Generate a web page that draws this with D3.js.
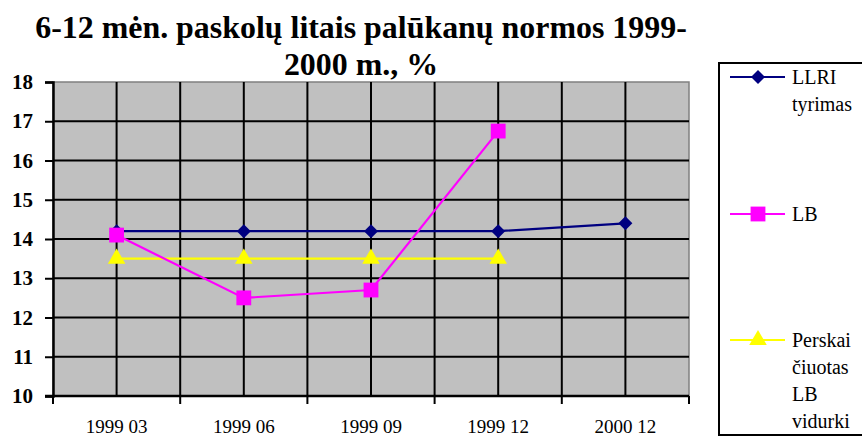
<!DOCTYPE html>
<html><head><meta charset="utf-8">
<script src="https://cdn.jsdelivr.net/npm/d3@7"></script>
<style>body{margin:0;background:#fff}svg{display:block}</style>
</head><body>
<script>
const categories = ["1999 03","1999 06","1999 09","1999 12","2000 12"];
const llri = [14.2,14.2,14.2,14.2,14.4];
const lb = [14.1,12.5,12.7,16.75,null];
const persk = [13.5,13.5,13.5,13.5,null];
const yTicks = [10,11,12,13,14,15,16,17,18];
const titleLines = ["6-12 mėn. paskolų litais palūkanų normos 1999-","2000 m., %"];
const legendNames = [["LLRI","tyrimas"],["LB"],["Perskai","čiuotas","LB","vidurki"]];

const W=862,H=437;
const svg=d3.select("body").append("svg").attr("width",W).attr("height",H);
const L=53,R=689,T=82,B=396;
const x=d3.scaleBand().domain(categories).range([L,R]);
const y=d3.scaleLinear().domain([10,18]).range([B,T]);
const font="Liberation Serif, Tinos, Times New Roman, Times, serif";

// title (fit line 1 to reference width)
const tt=svg.append("g").selectAll("text").data(titleLines).join("text")
 .attr("x",361).attr("y",(d,i)=>38+i*37).attr("text-anchor","middle")
 .style("font-family",font).attr("font-weight","bold").attr("font-size",30).text(d=>d);
const len=tt.nodes()[0].getComputedTextLength();
tt.attr("font-size",Math.min(32,30*652/len));

// plot bg
svg.append("rect").attr("x",L).attr("y",T).attr("width",R-L).attr("height",B-T)
 .attr("fill","#c0c0c0").attr("stroke","#808080").attr("stroke-width",1.5);

const vx=[];
categories.forEach(c=>{vx.push(x(c));vx.push(x(c)+x.bandwidth()/2);});
svg.append("g").selectAll("line").data(vx.filter(v=>v>L+1)).join("line")
 .attr("x1",d=>d).attr("x2",d=>d).attr("y1",T).attr("y2",B)
 .attr("stroke","#000").attr("stroke-width",2);
svg.append("g").selectAll("line").data(yTicks.filter(v=>v>10&&v<18)).join("line")
 .attr("x1",L).attr("x2",R).attr("y1",d=>y(d)).attr("y2",d=>y(d))
 .attr("stroke","#000").attr("stroke-width",2);

const ya=svg.append("g").attr("transform",`translate(${L},0)`)
 .call(d3.axisLeft(y).tickValues(yTicks).tickSize(8).tickPadding(12));
ya.attr("font-family",null);
ya.select(".domain").attr("stroke","#000").attr("stroke-width",2.5);
ya.selectAll(".tick line").attr("stroke","#000").attr("stroke-width",2);
ya.selectAll("text").style("font-family",font).attr("font-weight","bold").attr("font-size",21).attr("fill","#000");

const xa=svg.append("g").attr("transform",`translate(0,${B})`)
 .call(d3.axisBottom(x).tickSize(0).tickPadding(24));
xa.attr("font-family",null);
xa.select(".domain").remove();
xa.selectAll("text").style("font-family",font).attr("font-size",19).attr("fill","#000");
svg.append("line").attr("x1",L-8).attr("x2",R).attr("y1",B).attr("y2",B).attr("stroke","#000").attr("stroke-width",2.5);
const bounds=categories.map(c=>x(c)).concat([R]);
svg.append("g").selectAll("line").data(bounds).join("line")
 .attr("x1",d=>d).attr("x2",d=>d).attr("y1",B).attr("y2",B+8)
 .attr("stroke","#000").attr("stroke-width",2);

const cx=c=>x(c)+x.bandwidth()/2;
const series=[
 {vals:llri,color:"#000080",sym:d3.symbolDiamond2,size:125},
 {vals:lb,color:"#ff00ff",sym:d3.symbolSquare2,size:280},
 {vals:persk,color:"#ffff00",sym:d3.symbolTriangle2,size:220}
];
const line=d3.line().defined(d=>d.v!=null).x(d=>cx(d.c)).y(d=>y(d.v));
[2,0,1].forEach(i=>{
 const s=series[i];
 const pts=categories.map((c,j)=>({c,v:s.vals[j]}));
 svg.append("path").datum(pts).attr("d",line).attr("fill","none").attr("stroke",s.color).attr("stroke-width",2.2);
 svg.append("g").selectAll("path").data(pts.filter(p=>p.v!=null)).join("path")
  .attr("transform",d=>`translate(${cx(d.c)},${y(d.v)})`)
  .attr("d",d3.symbol().type(s.sym).size(s.size)).attr("fill",s.color);
});

svg.append("rect").attr("x",719).attr("y",63).attr("width",150).attr("height",372)
 .attr("fill","#fff").attr("stroke","#000").attr("stroke-width",2);
const ly=[77,214,340];
series.forEach((s,i)=>{
 const g=svg.append("g");
 g.append("line").attr("x1",730).attr("x2",785).attr("y1",ly[i]).attr("y2",ly[i]).attr("stroke",s.color).attr("stroke-width",2.2);
 g.append("path").attr("transform",`translate(758,${ly[i]})`).attr("d",d3.symbol().type(s.sym).size(s.size)).attr("fill",s.color);
 g.selectAll("text").data(legendNames[i]).join("text")
  .attr("x",792).attr("y",(d,k)=>ly[i]+7+k*27)
  .style("font-family",font).attr("font-size",20).attr("fill","#000").text(d=>d);
});
</script>
</body></html>
